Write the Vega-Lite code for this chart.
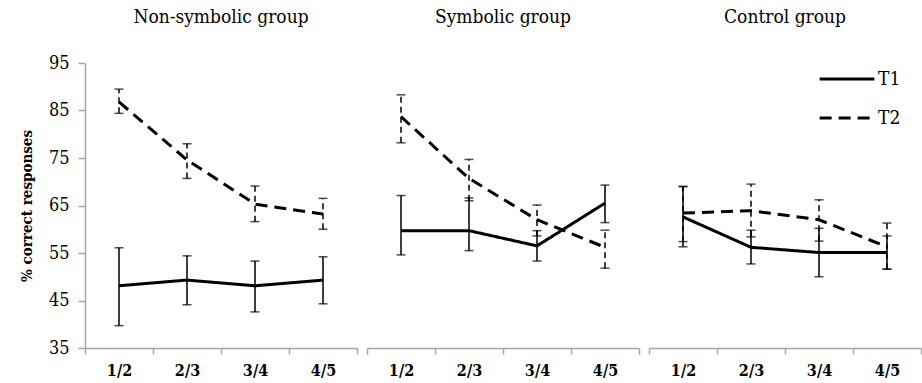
{
  "$schema": "https://vega.github.io/schema/vega-lite/v6.json",
  "background": "white",
  "padding": {"left": 19, "top": 8, "right": 0, "bottom": 0},
  "data": {"values": [
    {"group": "Non-symbolic group", "pair": "1/2", "time": "T1", "mean": 48.1, "lo": 39.7, "hi": 56.1},
    {"group": "Non-symbolic group", "pair": "2/3", "time": "T1", "mean": 49.3, "lo": 44.1, "hi": 54.4},
    {"group": "Non-symbolic group", "pair": "3/4", "time": "T1", "mean": 48.1, "lo": 42.6, "hi": 53.3},
    {"group": "Non-symbolic group", "pair": "4/5", "time": "T1", "mean": 49.3, "lo": 44.3, "hi": 54.2},
    {"group": "Non-symbolic group", "pair": "1/2", "time": "T2", "mean": 86.8, "lo": 84.4, "hi": 89.5},
    {"group": "Non-symbolic group", "pair": "2/3", "time": "T2", "mean": 74.6, "lo": 70.7, "hi": 78.0},
    {"group": "Non-symbolic group", "pair": "3/4", "time": "T2", "mean": 65.3, "lo": 61.6, "hi": 69.1},
    {"group": "Non-symbolic group", "pair": "4/5", "time": "T2", "mean": 63.2, "lo": 60.0, "hi": 66.5},
    {"group": "Symbolic group", "pair": "1/2", "time": "T1", "mean": 59.7, "lo": 54.6, "hi": 67.1},
    {"group": "Symbolic group", "pair": "2/3", "time": "T1", "mean": 59.7, "lo": 55.5, "hi": 66.6},
    {"group": "Symbolic group", "pair": "3/4", "time": "T1", "mean": 56.5, "lo": 53.3, "hi": 59.7},
    {"group": "Symbolic group", "pair": "4/5", "time": "T1", "mean": 65.5, "lo": 61.4, "hi": 69.3},
    {"group": "Symbolic group", "pair": "1/2", "time": "T2", "mean": 83.7, "lo": 78.2, "hi": 88.3},
    {"group": "Symbolic group", "pair": "2/3", "time": "T2", "mean": 70.7, "lo": 66.0, "hi": 74.7},
    {"group": "Symbolic group", "pair": "3/4", "time": "T2", "mean": 62.0, "lo": 58.6, "hi": 65.1},
    {"group": "Symbolic group", "pair": "4/5", "time": "T2", "mean": 56.2, "lo": 51.8, "hi": 59.8},
    {"group": "Control group", "pair": "1/2", "time": "T1", "mean": 62.6, "lo": 56.3, "hi": 69.0},
    {"group": "Control group", "pair": "2/3", "time": "T1", "mean": 56.2, "lo": 52.7, "hi": 59.8},
    {"group": "Control group", "pair": "3/4", "time": "T1", "mean": 55.1, "lo": 50.0, "hi": 60.2},
    {"group": "Control group", "pair": "4/5", "time": "T1", "mean": 55.1, "lo": 51.6, "hi": 58.6},
    {"group": "Control group", "pair": "1/2", "time": "T2", "mean": 63.4, "lo": 57.4, "hi": 69.0},
    {"group": "Control group", "pair": "2/3", "time": "T2", "mean": 63.9, "lo": 58.4, "hi": 69.5},
    {"group": "Control group", "pair": "3/4", "time": "T2", "mean": 62.0, "lo": 57.5, "hi": 66.2},
    {"group": "Control group", "pair": "4/5", "time": "T2", "mean": 56.3, "lo": 51.6, "hi": 61.3}
  ]},
  "facet": {
    "column": {
      "field": "group",
      "type": "nominal",
      "sort": ["Non-symbolic group", "Symbolic group", "Control group"],
      "title": null,
      "header": {"labelFont": "DejaVu Serif Condensed, DejaVu Serif", "labelFontSize": 19, "labelColor": "black", "labelPadding": 36}
    }
  },
  "spacing": 10,
  "spec": {
    "width": 272,
    "height": 285,
    "encoding": {
      "x": {
        "field": "pair", "type": "ordinal", "bandPosition": 0.5,
        "scale": {"type": "band", "paddingInner": 0, "paddingOuter": 0},
        "axis": {"title": null, "labelAngle": 0, "tickBand": "extent", "tickSize": 6, "labelPadding": 8,
                 "labelFont": "DejaVu Serif Condensed, DejaVu Serif", "labelFontSize": 16, "labelFontWeight": "bold", "labelColor": "black",
                 "domainColor": "#a6a6a6", "tickColor": "#a6a6a6", "domainWidth": 1.5, "tickWidth": 1.5}
      }
    },
    "layer": [
      {
        "mark": {"type": "rule", "strokeWidth": 1.5, "color": "black"},
        "encoding": {
          "y": {"field": "lo", "type": "quantitative"},
          "y2": {"field": "hi"},
          "strokeDash": {"condition": {"test": "datum.time === 'T2'", "value": [6, 4]}, "value": [1, 0]}
        }
      },
      {
        "mark": {"type": "tick", "orient": "horizontal", "size": 9, "thickness": 1.5, "color": "black"},
        "encoding": {"y": {"field": "lo", "type": "quantitative"}}
      },
      {
        "mark": {"type": "tick", "orient": "horizontal", "size": 9, "thickness": 1.5, "color": "black"},
        "encoding": {"y": {"field": "hi", "type": "quantitative"}}
      },
      {
        "mark": {"type": "line", "strokeWidth": 3, "color": "black"},
        "encoding": {
          "y": {
            "field": "mean", "type": "quantitative",
            "scale": {"domain": [35, 95], "nice": false, "zero": false},
            "axis": {"title": "% correct responses", "values": [35, 45, 55, 65, 75, 85, 95], "grid": false,
                     "tickSize": 7, "labelPadding": 9, "titlePadding": 14,
                     "labelFont": "DejaVu Serif Condensed, DejaVu Serif", "labelFontSize": 18, "labelColor": "black",
                     "titleFont": "DejaVu Serif Condensed, DejaVu Serif", "titleFontSize": 15, "titleFontWeight": "bold", "titleColor": "black",
                     "domainColor": "#a6a6a6", "tickColor": "#a6a6a6", "domainWidth": 1.5, "tickWidth": 1.5}
          },
          "strokeDash": {
            "field": "time", "type": "nominal",
            "scale": {"domain": ["T1", "T2"], "range": [[1, 0], [12, 7]]},
            "legend": {"title": null, "orient": "none", "legendX": 733, "legendY": -13,
                       "symbolType": "stroke", "symbolSize": 3000, "symbolStrokeWidth": 3, "symbolStrokeColor": "black",
                       "labelFont": "DejaVu Serif Condensed, DejaVu Serif", "labelFontSize": 19, "labelColor": "black", "labelOffset": 2,
                       "rowPadding": 0}
          }
        }
      }
    ]
  },
  "resolve": {"scale": {"y": "shared"}},
  "config": {"view": {"stroke": null}, "axis": {"grid": false}}
}
